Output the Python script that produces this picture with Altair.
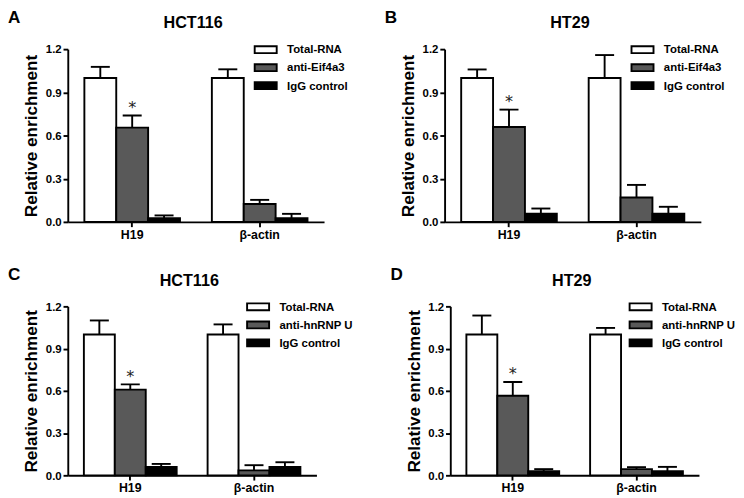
import altair as alt
import pandas as pd

genes = ["H19", "β-actin"]
series_eif = ["Total-RNA", "anti-Eif4a3", "IgG control"]
series_hnrnp = ["Total-RNA", "anti-hnRNP U", "IgG control"]
fill_colors = ["white", "#595959", "black"]

# Panel A: HCT116, anti-Eif4a3
a_h19_mean = [1.00, 0.655, 0.025]
a_h19_err = [0.077, 0.084, 0.020]
a_actin_mean = [1.00, 0.124, 0.025]
a_actin_err = [0.060, 0.029, 0.031]

# Panel B: HT29, anti-Eif4a3
b_h19_mean = [1.00, 0.659, 0.057]
b_h19_err = [0.059, 0.121, 0.036]
b_actin_mean = [1.00, 0.170, 0.057]
b_actin_err = [0.159, 0.087, 0.048]

# Panel C: HCT116, anti-hnRNP U
c_h19_mean = [1.00, 0.609, 0.060]
c_h19_err = [0.100, 0.037, 0.021]
c_actin_mean = [1.00, 0.035, 0.060]
c_actin_err = [0.072, 0.037, 0.033]

# Panel D: HT29, anti-hnRNP U
d_h19_mean = [1.00, 0.565, 0.030]
d_h19_err = [0.135, 0.098, 0.014]
d_actin_mean = [1.00, 0.044, 0.030]
d_actin_err = [0.047, 0.014, 0.030]

# significance marks (H19, antibody series)
sig_h19 = ["", "*", ""]
sig_actin = ["", "", ""]

FONT = "Liberation Sans"


def make_df(series, h19_mean, h19_err, actin_mean, actin_err):
    rows = []
    for g, means, errs, sigs in [
        (genes[0], h19_mean, h19_err, sig_h19),
        (genes[1], actin_mean, actin_err, sig_actin),
    ]:
        for s, m, e, sg in zip(series, means, errs, sigs):
            rows.append({"gene": g, "series": s, "mean": m, "top": m + e, "sig": sg})
    return pd.DataFrame(rows)


def panel(letter, title, series, h19_mean, h19_err, actin_mean, actin_err, width, height):
    df = make_df(series, h19_mean, h19_err, actin_mean, actin_err)
    base = alt.Chart(df)
    x = alt.X(
        "gene:N",
        sort=genes,
        scale=alt.Scale(domain=genes, paddingInner=0.25, paddingOuter=0.13),
        axis=alt.Axis(
            title=None, labelAngle=0, labelFont=FONT, labelFontSize=13,
            labelFontWeight="bold", labelColor="black", tickSize=5, tickWidth=2,
            tickColor="black", domainWidth=2, domainColor="black", labelPadding=2,
        ),
    )
    xo = alt.XOffset(
        "series:N",
        scale=alt.Scale(domain=series, paddingInner=0, paddingOuter=0),
    )
    y = alt.Y(
        "mean:Q",
        scale=alt.Scale(domain=[0, 1.2], nice=False, zero=True),
        axis=alt.Axis(
            values=[0, 0.3, 0.6, 0.9, 1.2], format=".1f", title="Relative enrichment",
            titleFont=FONT, titleFontSize=18, titleFontWeight="bold", titleColor="black",
            labelFont=FONT, labelFontSize=12, labelFontWeight="bold", labelColor="black",
            tickSize=5, tickWidth=2, tickColor="black", domainWidth=2,
            domainColor="black", labelPadding=2, titlePadding=5, grid=False,
        ),
    )
    color = alt.Color(
        "series:N",
        scale=alt.Scale(domain=series, range=fill_colors),
        legend=alt.Legend(
            title=None, orient="none", legendX=width - 70, legendY=-8,
            symbolType="M-1.6,-0.5H1.6V0.5H-1.6Z", symbolSize=210,
            symbolStrokeColor="black", symbolStrokeWidth=2, symbolOpacity=1,
            labelFont=FONT, labelFontSize=12, labelFontWeight="bold",
            labelColor="black", labelOffset=14, rowPadding=2, padding=0,
        ),
    )
    bars = base.mark_bar(stroke="black", strokeWidth=2).encode(x=x, xOffset=xo, y=y, color=color)
    err = base.mark_rule(color="black", strokeWidth=2).encode(
        x=x, xOffset=xo, y=alt.Y("mean:Q"), y2="top:Q"
    )
    caps = base.mark_tick(color="black", thickness=2, size=20, opacity=1).encode(
        x=x, xOffset=xo, y=alt.Y("top:Q")
    )
    stars = base.mark_text(
        fontSize=17, baseline="bottom", dy=1, color="#222222", font="DejaVu Sans"
    ).encode(x=x, xOffset=xo, y=alt.Y("top:Q"), text="sig:N")
    lab = alt.Chart(pd.DataFrame({"t": [letter]})).mark_text(
        font=FONT, fontSize=18, fontWeight="bold", align="left", baseline="alphabetic",
        color="black",
    ).encode(text="t:N", x=alt.value(-63), y=alt.value(-28))
    ttl = alt.Chart(pd.DataFrame({"t": [title]})).mark_text(
        font=FONT, fontSize=17, fontWeight="bold", align="center", baseline="alphabetic",
        color="black",
    ).encode(text="t:N", x=alt.value(width / 2 - 3), y=alt.value(-22))
    return alt.layer(bars, err, caps, stars, lab, ttl).properties(width=width, height=height)


pa = panel("A", "HCT116", series_eif, a_h19_mean, a_h19_err, a_actin_mean, a_actin_err, 270, 182)
pb = panel("B", "HT29", series_eif, b_h19_mean, b_h19_err, b_actin_mean, b_actin_err, 270, 182)
pc = panel("C", "HCT116", series_hnrnp, c_h19_mean, c_h19_err, c_actin_mean, c_actin_err, 262, 178)
pd_ = panel("D", "HT29", series_hnrnp, d_h19_mean, d_h19_err, d_actin_mean, d_actin_err, 262, 178)

top = alt.hconcat(pa, pb, spacing=39).resolve_scale(color="independent", xOffset="independent")
bottom = alt.hconcat(pc, pd_, spacing=39).resolve_scale(color="independent", xOffset="independent")

chart = alt.vconcat(top, bottom, spacing=27).resolve_scale(
    color="independent", xOffset="independent"
).properties(
    padding={"left": 0, "top": -12, "right": 0, "bottom": 0}, background="white"
).configure_view(stroke=None)

chart.save("out.html", embed_options={"renderer": "svg", "actions": False})
